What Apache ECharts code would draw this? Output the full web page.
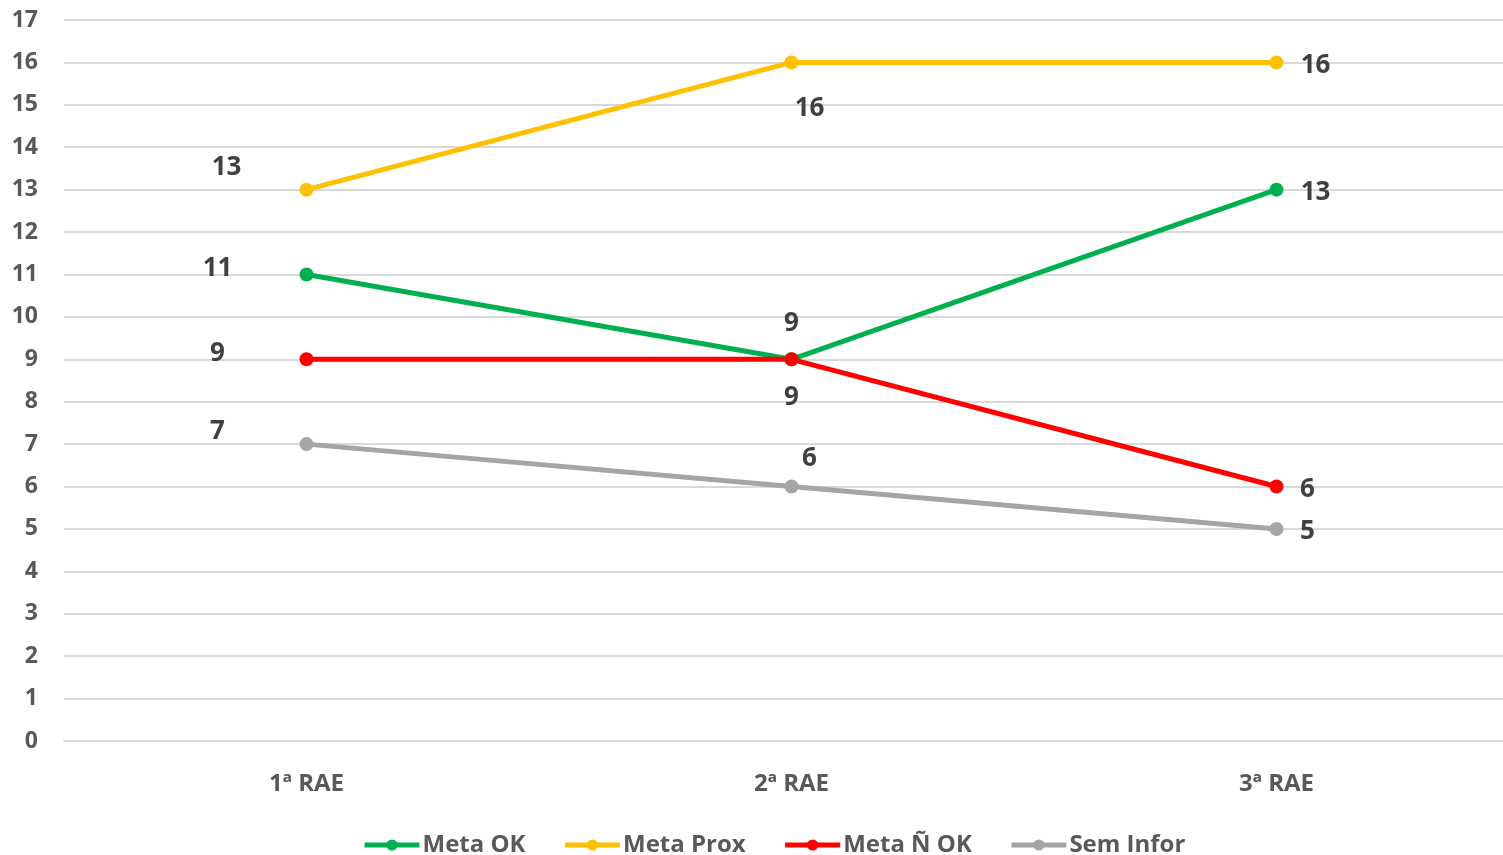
<!DOCTYPE html>
<html><head><meta charset="utf-8">
<script src="https://cdn.jsdelivr.net/npm/echarts@6/dist/echarts.min.js"></script>
<style>html,body{margin:0;padding:0;background:#fff;overflow:hidden}#c{width:1519px;height:855px}</style>
</head><body><div id="c"></div>
<script>
const categories = ['1ª RAE', '2ª RAE', '3ª RAE'];
const metaOK = [11, 9, 13];
const metaProx = [13, 16, 16];
const metaNOK = [9, 9, 6];
const semInfor = [7, 6, 5];
const seriesNames = ['Meta OK', 'Meta Prox', 'Meta Ñ OK', 'Sem Infor'];

// label offsets (layout, px) per series per category
const labelOffsets = [
  [[-89, -6], [0, -36], [39, 3]],
  [[-80, -22], [18, 46], [39, 3]],
  [[-89, -6], [0, 38], [31, 3]],
  [[-89, -13], [18, -28], [31, 3]]
];
const colors = ['#00B050', '#FFC000', '#FF0000', '#A5A5A5'];
const values = [metaOK, metaProx, metaNOK, semInfor];
const FONT = '"Open Sans", sans-serif';

const chart = echarts.init(document.getElementById('c'));
chart.setOption({
  animation: false,
  grid: { left: 64, right: 0, top: 20, bottom: 114 },
  legend: {
    top: 833, left: 362, padding: 0, itemWidth: 55, itemHeight: 14, itemGap: 37,
    lineStyle: { width: 5 },
    textStyle: { fontFamily: FONT, fontWeight: 'bold', fontSize: 24, color: '#595959', padding: [0, 0, 0, -2] },
    data: seriesNames
  },
  xAxis: {
    type: 'category', data: categories, boundaryGap: true,
    axisLine: { lineStyle: { color: '#D9D9D9', width: 2 } },
    axisTick: { show: false },
    axisLabel: { margin: 31, fontFamily: FONT, fontWeight: 'bold', fontSize: 24, color: '#595959' }
  },
  yAxis: {
    type: 'value', min: 0, max: 17, interval: 1,
    axisLine: { show: false }, axisTick: { show: false },
    splitLine: { lineStyle: { color: '#D9D9D9', width: 2 } },
    axisLabel: { margin: 26, fontFamily: FONT, fontWeight: 'bold', fontSize: 23, color: '#595959' }
  },
  series: seriesNames.map((name, i) => ({
    name, type: 'line', symbol: 'circle', symbolSize: 14,
    lineStyle: { color: colors[i], width: 5 },
    itemStyle: { color: colors[i] },
    data: values[i].map((v, j) => ({
      value: v,
      label: {
        show: true, position: 'inside', offset: labelOffsets[i][j],
        fontFamily: FONT, fontWeight: 'bold', fontSize: 26, color: '#404040'
      }
    }))
  }))
});
</script></body></html>
